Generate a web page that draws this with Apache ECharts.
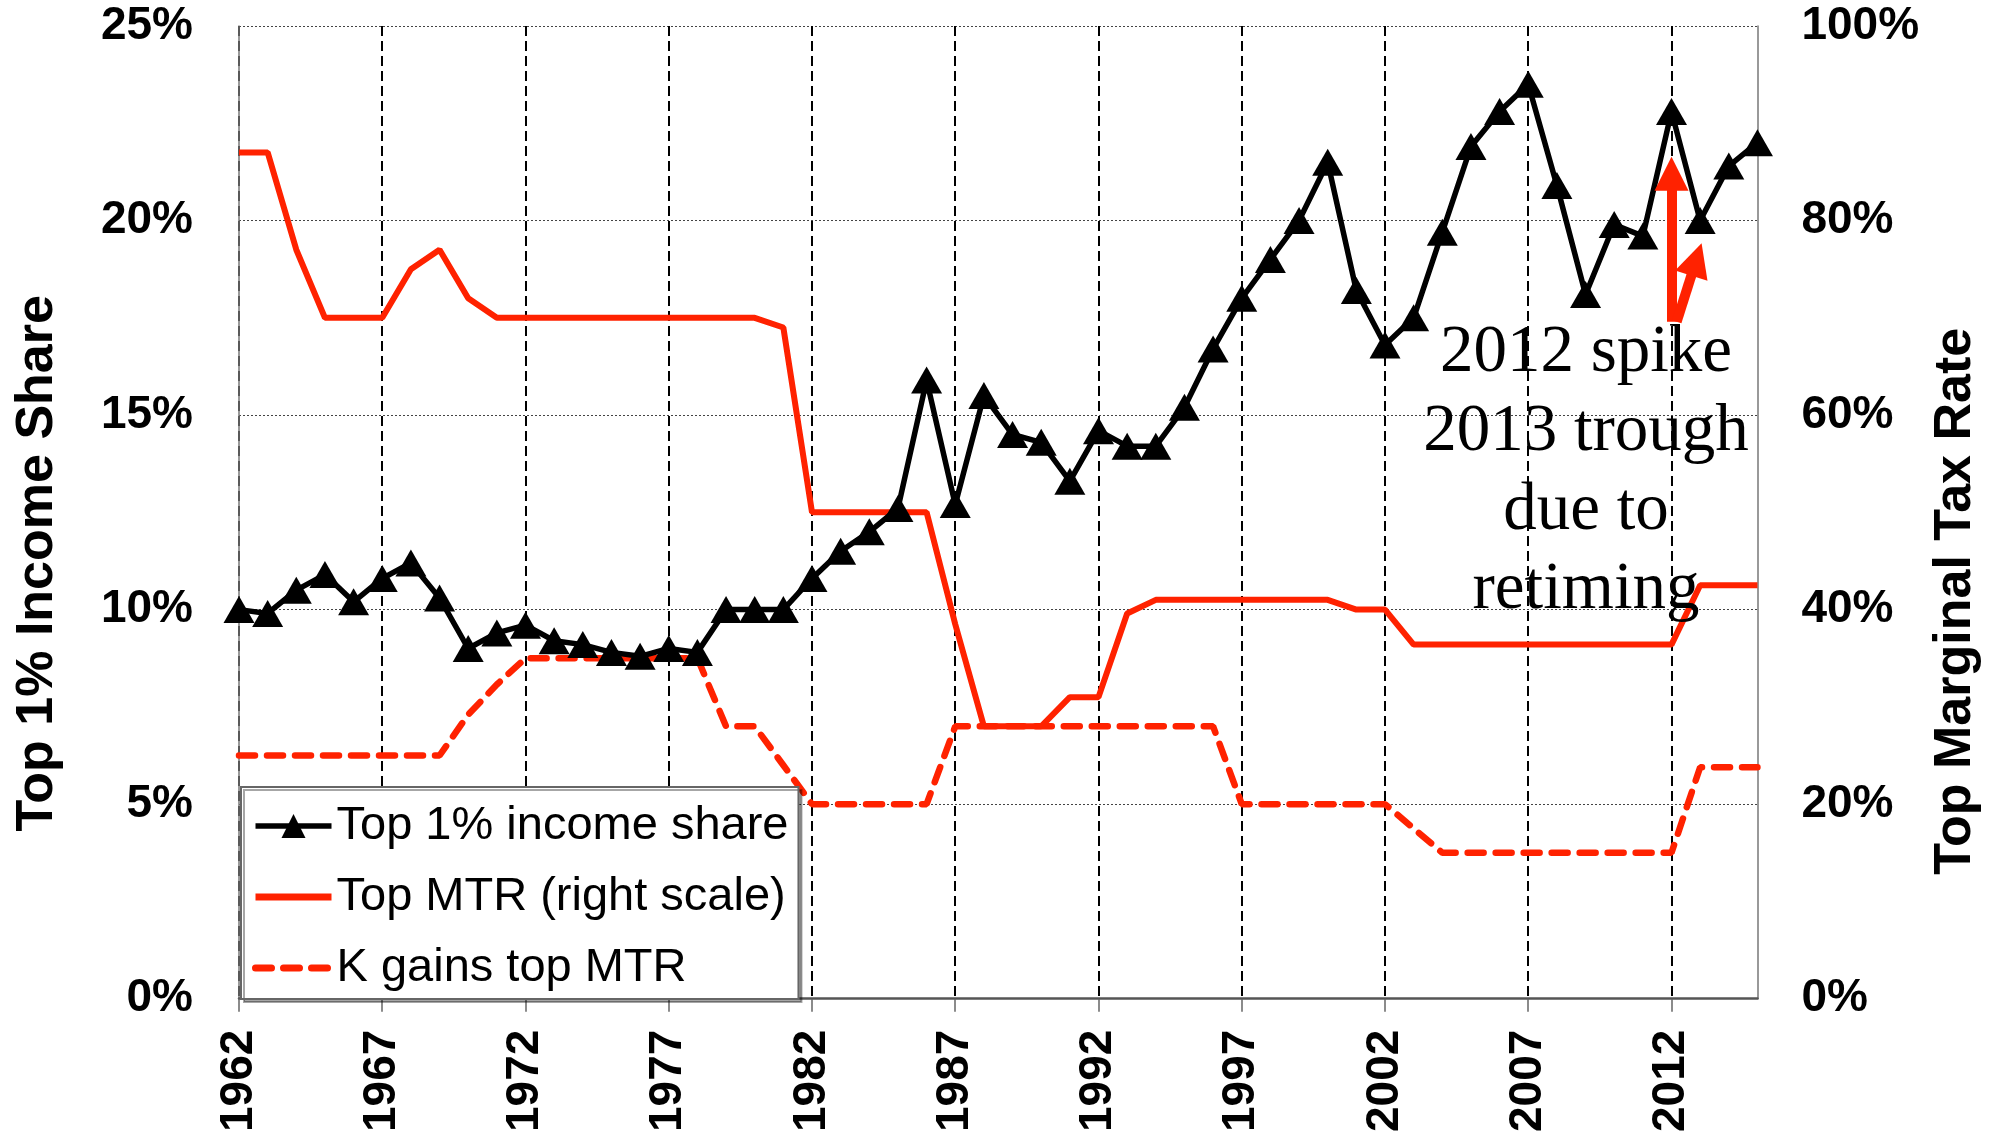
<!DOCTYPE html>
<html>
<head>
<meta charset="utf-8">
<title>Top 1% income share and top marginal tax rates</title>
<script src="https://cdn.jsdelivr.net/npm/echarts@6/dist/echarts.min.js"></script>
<style>
  html, body { margin: 0; padding: 0; background: #fff; }
  #chart { width: 1990px; height: 1135px; }
</style>
</head>
<body>
<div id="chart"></div>
<script>
const years = [
  '1962', '1963', '1964', '1965', '1966', '1967', '1968', '1969', '1970', '1971',
  '1972', '1973', '1974', '1975', '1976', '1977', '1978', '1979', '1980', '1981',
  '1982', '1983', '1984', '1985', '1986', '1987', '1988', '1989', '1990', '1991',
  '1992', '1993', '1994', '1995', '1996', '1997', '1998', '1999', '2000', '2001',
  '2002', '2003', '2004', '2005', '2006', '2007', '2008', '2009', '2010', '2011',
  '2012', '2013', '2014', '2015'
];

// left scale, %
const topShare = [
  10.0, 9.9, 10.5, 10.9, 10.2, 10.8, 11.2, 10.3, 9.0, 9.4,
  9.6, 9.2, 9.1, 8.9, 8.8, 9.0, 8.9, 10.0, 10.0, 10.0,
  10.8, 11.5, 12.0, 12.6, 15.9, 12.7, 15.5, 14.5, 14.3, 13.3,
  14.6, 14.2, 14.2, 15.2, 16.7, 18.0, 19.0, 20.0, 21.5, 18.2,
  16.8, 17.5, 19.7, 21.9, 22.8, 23.5, 20.9, 18.1, 19.9, 19.6,
  22.8, 20.0, 21.4, 22.0
];

// right scale, %
const topMtr = [
  87, 87, 77, 70, 70, 70, 75, 77, 72, 70,
  70, 70, 70, 70, 70, 70, 70, 70, 70, 69,
  50, 50, 50, 50, 50, 38.5, 28, 28, 28, 31,
  31, 39.6, 41, 41, 41, 41, 41, 41, 41, 40,
  40, 36.4, 36.4, 36.4, 36.4, 36.4, 36.4, 36.4, 36.4, 36.4,
  36.4, 42.5, 42.5, 42.5
];

const kGainsMtr = [
  25, 25, 25, 25, 25, 25, 25, 25, 29.2, 32.3,
  35, 35, 35, 35, 35, 35, 35, 28, 28, 24,
  20, 20, 20, 20, 20, 28, 28, 28, 28, 28,
  28, 28, 28, 28, 28, 20, 20, 20, 20, 20,
  20, 17.5, 15, 15, 15, 15, 15, 15, 15, 15,
  15, 23.8, 23.8, 23.8
];

// red arrows of the note: [year, left-scale %]
const arrowFrom = [[2012, 17.4], [2012.18, 17.4]];
const arrowTo = [[2012, 21.2], [2012.87, 19.0]];

const noteText = '2012 spike\n2013 trough\ndue to\nretiming';

const RED = '#ff2200';
const SANS = '"Liberation Sans", Arial, sans-serif';

const chart = echarts.init(document.getElementById('chart'));

const option = {
  animation: false,
  backgroundColor: '#fff',
  grid: { left: 239, right: 210, top: 26, bottom: 133 },
  legend: {
    orient: 'vertical',
    left: 241,
    top: 787,
    padding: [14, 10, 6, 11],
    itemWidth: 76,
    itemHeight: 30,
    itemGap: 21,
    backgroundColor: '#fff',
    borderColor: '#666',
    borderWidth: 2,
    shadowColor: 'rgba(0,0,0,0.35)',
    shadowOffsetX: 3,
    shadowOffsetY: 3,
    textStyle: { fontSize: 47, fontFamily: SANS, color: '#000', lineHeight: 50 },
    data: [
      { name: 'Top 1% income share', lineStyle: { width: 5.5 } },
      { name: 'Top MTR (right scale)', itemStyle: { opacity: 0 }, lineStyle: { width: 7 } },
      { name: 'K gains top MTR', itemStyle: { opacity: 0 }, lineStyle: { width: 7 } }
    ]
  },
  xAxis: [
    {
      type: 'category',
      data: years,
      boundaryGap: false,
      axisLine: { lineStyle: { color: '#555', width: 2.5 } },
      axisTick: { show: true, interval: 4, length: 13, lineStyle: { color: '#666', width: 1.5 } },
      axisLabel: {
        interval: 4,
        rotate: 90,
        margin: 31,
        fontSize: 46,
        fontWeight: 'bold',
        fontFamily: SANS,
        color: '#000'
      },
      splitLine: { show: true, interval: 4, lineStyle: { color: '#000', width: 2, type: [10, 5] } }
    },
    { type: 'value', min: 1962, max: 2015, show: false }
  ],
  yAxis: [
    {
      type: 'value',
      min: 0,
      max: 25,
      interval: 5,
      name: 'Top 1% Income Share',
      nameLocation: 'middle',
      nameRotate: 90,
      nameGap: 175,
      nameTextStyle: { fontSize: 52, fontWeight: 'bold', fontFamily: SANS, color: '#000', padding: [0, 102, 0, 0] },
      axisLine: { show: true, lineStyle: { color: '#777', width: 1.5 } },
      axisTick: { show: false },
      axisLabel: { formatter: '{value}%', margin: 46, fontSize: 46, fontWeight: 'bold', fontFamily: SANS, color: '#000' },
      splitLine: { show: true, lineStyle: { color: '#444', width: 1, type: [2, 2] } }
    },
    {
      type: 'value',
      min: 0,
      max: 100,
      interval: 20,
      position: 'right',
      name: 'Top Marginal Tax Rate',
      nameLocation: 'middle',
      nameRotate: 90,
      nameGap: 138,
      nameTextStyle: { fontSize: 52, fontWeight: 'bold', fontFamily: SANS, color: '#000', padding: [0, 178, 0, 0] },
      axisLine: { show: true, lineStyle: { color: '#777', width: 1.5 } },
      axisTick: { show: false },
      axisLabel: { formatter: '{value}%', margin: 44, fontSize: 46, fontWeight: 'bold', fontFamily: SANS, color: '#000' },
      splitLine: { show: false }
    }
  ],
  series: [
    {
      name: 'Top MTR (right scale)',
      type: 'line',
      yAxisIndex: 1,
      data: topMtr,
      symbol: 'none',
      color: RED,
      lineStyle: { color: RED, width: 6 },
      z: 3
    },
    {
      name: 'K gains top MTR',
      type: 'line',
      yAxisIndex: 1,
      data: kGainsMtr,
      symbol: 'none',
      color: RED,
      lineStyle: { color: RED, width: 6.5, type: [16, 12], cap: 'round' },
      z: 3
    },
    {
      name: 'Top 1% income share',
      type: 'line',
      yAxisIndex: 0,
      data: topShare,
      symbol: 'triangle',
      symbolSize: [31, 27],
      showAllSymbol: true,
      color: '#000',
      itemStyle: { color: '#000' },
      lineStyle: { color: '#000', width: 5.5 },
      z: 4
    },
    {
      name: 'note arrows',
      type: 'lines',
      coordinateSystem: 'cartesian2d',
      xAxisIndex: 1,
      yAxisIndex: 0,
      symbol: ['none', 'triangle'],
      symbolSize: 34,
      silent: true,
      itemStyle: { color: RED },
      lineStyle: { color: RED, width: 10, opacity: 1, curveness: 0 },
      data: arrowFrom.map((p, i) => ({ coords: [p, arrowTo[i]] })),
      z: 5
    }
  ],
  graphic: [
    {
      type: 'text',
      x: 1586,
      y: 314,
      z: 10,
      style: {
        text: noteText,
        fontSize: 67,
        fontFamily: '"Liberation Serif", "Times New Roman", serif',
        fill: '#000',
        align: 'center',
        verticalAlign: 'top',
        lineHeight: 79
      }
    }
  ]
};

chart.setOption(option);
</script>
</body>
</html>
